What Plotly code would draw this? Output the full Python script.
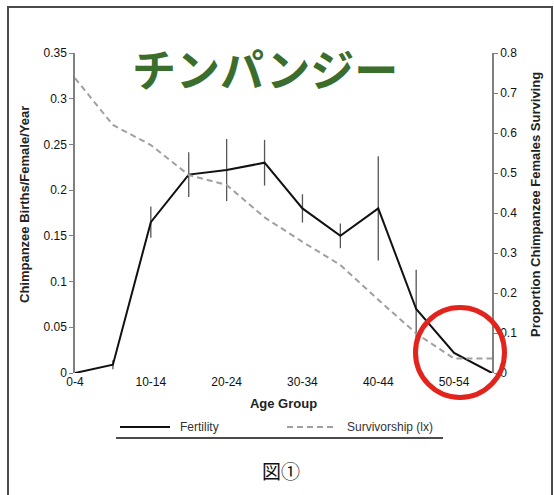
import plotly.graph_objects as go

# Age classes (5-year bins)
age_groups = ["0-4", "5-9", "10-14", "15-19", "20-24", "25-29",
              "30-34", "35-39", "40-44", "45-49", "50-54", "55-59"]
# Births per female per year, with error half-widths
fertility = [0.0, 0.009, 0.165, 0.217, 0.222, 0.230,
             0.180, 0.150, 0.180, 0.070, 0.022, 0.0]
fertility_err = [0.0, 0.005, 0.017, 0.0245, 0.034, 0.025,
                 0.0155, 0.0135, 0.057, 0.043, 0.0, 0.0]
# Proportion of females surviving (lx)
survivorship = [0.737, 0.620, 0.570, 0.495, 0.470, 0.389,
                0.328, 0.270, 0.183, 0.099, 0.036, 0.036]
# Labelled age classes on the x axis
shown_labels = ["0-4", "10-14", "20-24", "30-34", "40-44", "50-54"]

W, H = 554, 495
L, R, T, B = 75, 492, 53, 373  # plot area in pixels


def px(x):
    return (x - L) / (R - L)


def py(y):
    return (B - y) / (B - T)


FONT = "Liberation Sans, Arial, sans-serif"
FERT_LINE = dict(color="#111111", width=2)
SURV_LINE = dict(color="#a0a0a0", width=2, dash="6px,4px")

fig = go.Figure()
fig.add_trace(go.Scatter(
    x=age_groups, y=fertility, name="Fertility", mode="lines",
    line=FERT_LINE,
    error_y=dict(type="data", array=fertility_err, visible=True,
                 color="#555555", thickness=1.3, width=0),
    yaxis="y",
))
fig.add_trace(go.Scatter(
    x=age_groups, y=survivorship, name="Survivorship (lx)", mode="lines",
    line=SURV_LINE,
    yaxis="y2",
))

ticktext = [a if a in shown_labels else "" for a in age_groups]

fig.update_layout(
    width=W, height=H,
    margin=dict(l=L, r=W - R, t=T, b=H - B, pad=0),
    paper_bgcolor="white", plot_bgcolor="white",
    font=dict(family=FONT, size=12, color="#1a1a1a"),
    showlegend=False,
    xaxis=dict(type="category", categoryorder="array", categoryarray=age_groups,
               range=[0, len(age_groups) - 1], tickmode="array",
               tickvals=age_groups, ticktext=ticktext, ticks="",
               showline=False, showgrid=False, zeroline=False,
               tickfont=dict(size=12, color="#111111"),
               title=dict(text="<b>Age Group</b>", font=dict(size=13, color="#222222"),
                          standoff=10)),
    yaxis=dict(range=[0, 0.35], dtick=0.05, tick0=0, showgrid=False,
               zeroline=False, showline=True, linecolor="#808080", linewidth=1.5,
               ticks="outside", ticklen=4, tickcolor="#808080",
               tickfont=dict(size=12, color="#111111")),
    yaxis2=dict(range=[0, 0.8], dtick=0.1, tick0=0, overlaying="y", side="right",
                showgrid=False, zeroline=False, showline=True, linecolor="#808080",
                linewidth=1.5, ticks="outside", ticklen=4, tickcolor="#808080",
                tickfont=dict(size=12, color="#111111")),
)

annotations = [
    dict(text="<b>Chimpanzee Births/Female/Year</b>", x=px(24), y=py(205),
         textangle=-90, font=dict(size=13, color="#222222")),
    dict(text="<b>Proportion Chimpanzee Females Surviving</b>", x=px(535), y=py(205),
         textangle=-90, font=dict(size=13, color="#222222")),
    dict(text="<b>チンパンジー</b>", x=px(265), y=py(68),
         font=dict(family="Noto Sans CJK JP", size=44, color="#3b6e2c")),
    dict(text="図①", x=px(281), y=py(470),
         font=dict(family="Noto Sans CJK JP", size=19, color="#111111")),
    # legend labels
    dict(text="Fertility", x=px(178), y=py(427), xanchor="left",
         font=dict(size=12, color="#333333")),
    dict(text="Survivorship (lx)", x=px(345), y=py(427), xanchor="left",
         font=dict(size=12, color="#333333")),
]
for a in annotations:
    a.setdefault("xanchor", "center")
    a.update(xref="paper", yref="paper", showarrow=False, yanchor="middle")
fig.update_layout(annotations=annotations)

shapes = [
    # frame
    dict(type="path", path=f"M {px(8)} {py(495)} L {px(8)} {py(7)} L {px(552)} {py(7)} L {px(552)} {py(495)}",
         line=dict(color="#4a4a4a", width=2)),
    # legend samples
    dict(type="line", x0=px(120), x1=px(170), y0=py(427), y1=py(427), line=FERT_LINE),
    dict(type="line", x0=px(287), x1=px(337), y0=py(427), y1=py(427), line=SURV_LINE),
    # rule under the legend
    dict(type="line", x0=px(116), x1=px(443), y0=py(438), y1=py(438),
         line=dict(color="#111111", width=1.5)),
    # red highlight circle
    dict(type="circle", x0=px(415.5), x1=px(504.5), y0=py(307.5), y1=py(397.5),
         line=dict(color="#e3241d", width=5)),
]
for s in shapes:
    s.update(xref="paper", yref="paper", layer="above")
fig.update_layout(shapes=shapes)

fig.write_html("out.html")
